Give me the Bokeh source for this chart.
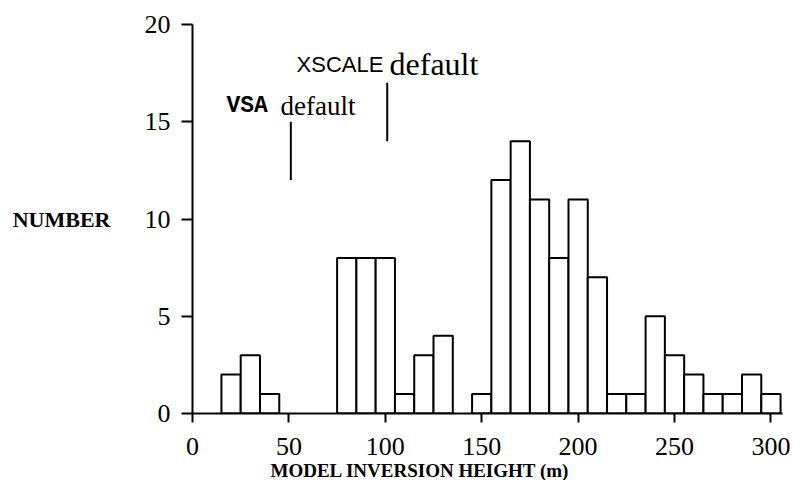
from bokeh.plotting import figure
from bokeh.models import Range1d, FixedTicker, Label, Title
from bokeh.embed import file_html
from bokeh.resources import INLINE

# ---- data ----
bin_centers = [20, 30, 40, 50, 60, 70, 80, 90, 100, 110, 120, 130, 140, 150,
               160, 170, 180, 190, 200, 210, 220, 230, 240, 250, 260, 270, 280, 290, 300]
counts = [2, 3, 1, 0, 0, 0, 8, 8, 8, 1, 3, 4, 0, 1,
          12, 14, 11, 8, 11, 7, 1, 1, 5, 3, 2, 1, 1, 2, 1]
bin_width = 10
x_ticks = [0, 50, 100, 150, 200, 250, 300]
y_ticks = [0, 5, 10, 15, 20]
marker_x = [51, 101]          # VSA default, XSCALE default
marker_y0 = [12, 14]
marker_y1 = [15, 17]

left = [c - bin_width / 2 for c, n in zip(bin_centers, counts) if n > 0]
right = [c + bin_width / 2 for c, n in zip(bin_centers, counts) if n > 0]
top = [n for n in counts if n > 0]

p = figure(output_backend="svg", toolbar_location=None,
           frame_width=590, frame_height=389,
           min_border_left=192, min_border_top=24,
           min_border_right=10, min_border_bottom=40,
           x_range=Range1d(0, 306), y_range=Range1d(0, 20))
p.outline_line_color = None
p.xgrid.grid_line_color = None
p.ygrid.grid_line_color = None
p.background_fill_color = "white"
p.border_fill_color = "white"

p.quad(left=left, right=right, top=top, bottom=0,
       fill_color="white", line_color="black", line_width=2)

p.segment(x0=marker_x, y0=marker_y0, x1=marker_x, y1=marker_y1,
          line_color="black", line_width=2)

for ax in (p.xaxis[0], p.yaxis[0]):
    ax.axis_line_width = 2
    ax.axis_line_color = "black"
    ax.major_tick_line_width = 2
    ax.major_tick_line_color = "black"
    ax.major_tick_in = 0
    ax.minor_tick_line_color = None
    ax.major_label_text_font = "Liberation Serif"
    ax.major_label_text_font_size = "26px"
    ax.major_label_text_color = "black"

p.xaxis[0].ticker = FixedTicker(ticks=x_ticks)
p.yaxis[0].ticker = FixedTicker(ticks=y_ticks)
p.xaxis[0].major_tick_out = 9
p.yaxis[0].major_tick_out = 11
p.xaxis[0].major_label_standoff = 15
p.yaxis[0].major_label_standoff = 11

# y-axis label, horizontal
p.yaxis[0].axis_label = "NUMBER"
p.yaxis[0].axis_label_orientation = "horizontal"
p.yaxis[0].axis_label_text_font = "Liberation Serif"
p.yaxis[0].axis_label_text_font_size = "22px"
p.yaxis[0].axis_label_text_font_style = "bold"
p.yaxis[0].axis_label_text_color = "black"
p.yaxis[0].axis_label_standoff = 31

# x-axis label as a left-aligned title below, offset from frame left
p.add_layout(Title(text="MODEL INVERSION HEIGHT (m)", align="left", offset=78,
                   text_font="Liberation Serif", text_font_size="19px",
                   text_font_style="bold", text_color="black", standoff=0),
             "below")

def add_label(x, y, text, font, size, style="normal"):
    p.add_layout(Label(x=x, y=y, text=text, text_font=font,
                       text_font_size=size, text_font_style=style,
                       text_align="left", text_baseline="alphabetic",
                       text_color="black"))

add_label(17.6, 15.82, "VSA", "Liberation Mono", "23px", "bold")
add_label(45.7, 15.82, "default", "Liberation Serif", "27px")
add_label(54.0, 17.95, "XSCALE", "Liberation Sans", "22px")
add_label(102.2, 17.95, "default", "Liberation Serif", "32px")

open("out.html", "w").write(file_html(p, INLINE))
